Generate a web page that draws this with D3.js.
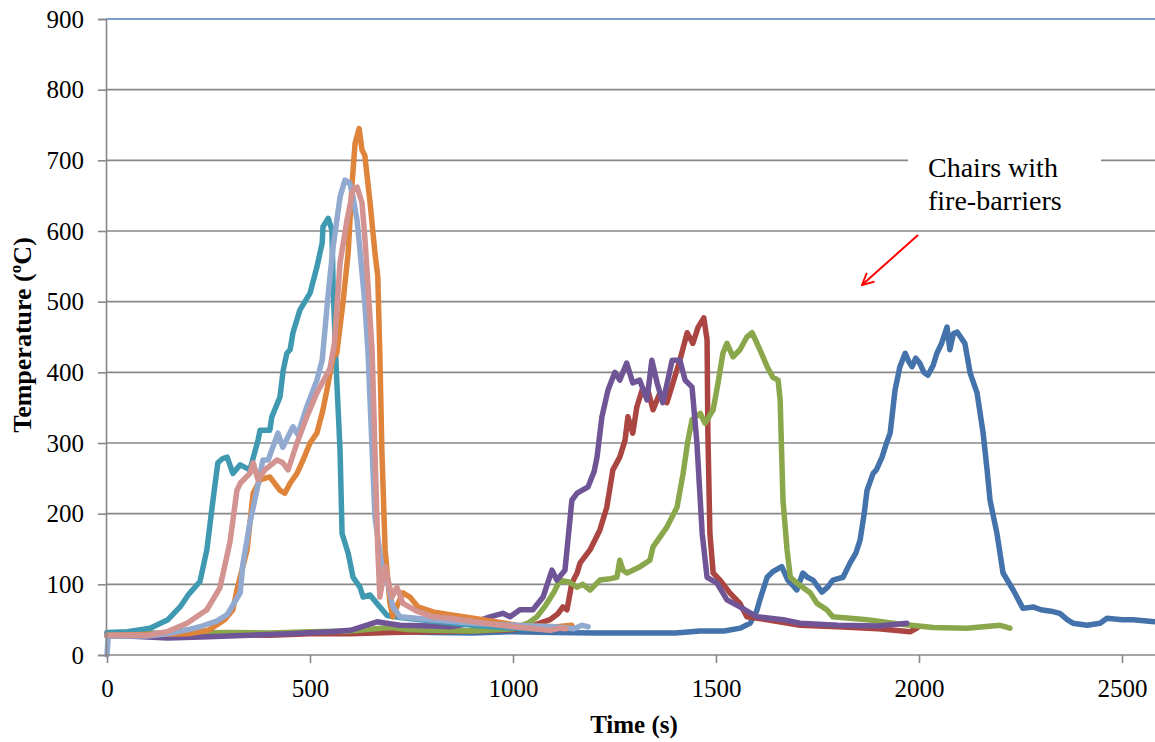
<!DOCTYPE html>
<html>
<head>
<meta charset="utf-8">
<script src="https://cdn.jsdelivr.net/npm/d3@7"></script>
<style>
  body { margin: 0; background: #fff; }
  svg text { font-family: "Liberation Serif", "Times New Roman", serif; }
</style>
</head>
<body>
<script>
/* Data: [time (s), temperature (ºC)] */
var blueData = [[0,30],[100,31],[200,29],[300,31],[400,30],[500,32],[600,31],[700,33],[800,32],[900,31],[1000,33],[1100,32],[1200,31],[1300,31],[1400,31],[1461,34],[1520,34],[1560,38],[1584,45],[1600,62],[1608,78],[1626,110],[1640,118],[1662,125],[1677,106],[1690,98],[1699,92],[1714,116],[1725,110],[1739,106],[1761,89],[1775,96],[1788,106],[1813,110],[1830,130],[1845,145],[1855,163],[1865,200],[1872,233],[1887,257],[1895,262],[1909,280],[1920,300],[1929,314],[1941,375],[1953,408],[1966,427],[1975,415],[1983,408],[1992,420],[2002,413],[2012,400],[2022,396],[2035,410],[2044,427],[2055,440],[2069,464],[2076,432],[2085,455],[2094,457],[2113,441],[2126,399],[2143,371],[2158,314],[2168,260],[2175,219],[2192,172],[2207,116],[2232,92],[2256,66],[2281,68],[2300,64],[2325,62],[2347,59],[2365,50],[2379,45],[2414,42],[2446,45],[2463,52],[2500,50],[2527,50],[2560,48],[2600,46]];
var redData = [[0,27],[100,28],[200,27],[300,29],[400,28],[500,30],[600,30],[700,32],[800,33],[900,34],[1000,36],[1040,40],[1066,45],[1091,50],[1110,58],[1123,68],[1133,64],[1145,102],[1158,116],[1165,130],[1190,149],[1214,177],[1231,209],[1246,262],[1263,280],[1276,304],[1283,337],[1295,314],[1305,351],[1318,375],[1332,375],[1345,347],[1362,371],[1379,357],[1394,385],[1411,417],[1429,456],[1443,441],[1456,464],[1470,477],[1478,446],[1480,314],[1485,172],[1493,116],[1510,106],[1534,88],[1559,73],[1576,54],[1626,50],[1707,42],[1800,40],[1900,37],[1978,33],[1995,38]];
var greenData = [[0,28],[100,30],[200,31],[300,32],[400,31],[500,33],[600,34],[660,37],[700,39],[740,36],[800,35],[900,34],[1000,37],[1040,46],[1059,54],[1080,70],[1100,88],[1116,106],[1140,103],[1158,96],[1172,100],[1190,92],[1214,106],[1240,108],[1256,110],[1263,134],[1271,120],[1281,116],[1313,125],[1337,134],[1345,153],[1379,181],[1404,209],[1419,257],[1431,304],[1441,333],[1461,342],[1473,328],[1493,347],[1505,385],[1517,427],[1527,441],[1542,422],[1559,432],[1576,450],[1589,456],[1608,432],[1626,408],[1640,393],[1653,389],[1658,361],[1665,219],[1675,149],[1683,110],[1699,102],[1732,88],[1749,73],[1773,64],[1788,54],[1872,50],[1950,44],[2035,39],[2118,38],[2200,42],[2224,38]];
var purpleData = [[0,28],[50,27],[150,24],[250,26],[350,28],[450,30],[550,33],[600,35],[665,47],[700,44],[722,42],[800,41],[845,40],[900,45],[943,54],[975,59],[993,54],[1017,64],[1049,64],[1074,82],[1096,120],[1108,106],[1128,120],[1145,219],[1158,229],[1185,238],[1200,260],[1207,280],[1219,337],[1234,375],[1251,400],[1263,389],[1280,413],[1295,385],[1312,389],[1330,361],[1342,417],[1355,385],[1369,357],[1392,417],[1411,417],[1424,389],[1441,379],[1453,300],[1466,172],[1478,110],[1502,102],[1527,78],[1559,68],[1601,54],[1665,50],[1707,45],[1800,42],[1900,41],[1970,45]];
var tealData = [[0,32],[50,33],[106,38],[150,50],[180,68],[200,85],[229,104],[246,149],[261,219],[273,272],[285,278],[296,280],[310,257],[328,269],[352,262],[372,304],[377,318],[401,318],[406,337],[426,365],[434,403],[443,427],[451,432],[458,456],[475,488],[500,512],[517,549],[530,583],[532,606],[545,618],[554,601],[557,521],[565,400],[574,290],[579,172],[594,144],[606,110],[623,96],[631,82],[648,85],[665,73],[690,56],[722,53],[800,48],[900,42],[1000,38],[1100,36]];
var orangeData = [[0,28],[100,29],[200,30],[250,35],[290,50],[310,64],[320,92],[345,149],[360,229],[377,248],[401,252],[426,233],[438,229],[451,243],[468,257],[483,276],[500,300],[517,314],[532,347],[545,385],[557,422],[566,427],[581,498],[594,569],[603,662],[611,724],[621,745],[628,715],[635,707],[648,640],[660,569],[667,535],[672,427],[677,290],[685,149],[697,73],[704,54],[717,73],[729,88],[746,82],[766,68],[803,61],[845,57],[926,50],[1010,42],[1108,40],[1145,42]];
var lightBlueData = [[0,0],[3,27],[50,27],[100,27],[148,30],[200,36],[229,40],[270,48],[296,57],[328,88],[335,130],[352,187],[369,233],[384,276],[397,276],[421,314],[433,294],[458,323],[470,312],[492,351],[517,389],[530,417],[545,512],[557,578],[574,648],[586,672],[598,668],[606,648],[616,615],[623,573],[635,498],[643,427],[653,290],[660,195],[677,125],[692,102],[704,68],[722,54],[800,50],[900,45],[1000,42],[1100,40],[1150,37],[1170,42],[1185,40]];
var pinkData = [[0,28],[100,28],[148,33],[197,45],[246,64],[278,95],[303,160],[320,233],[328,243],[352,257],[360,272],[372,248],[389,262],[419,276],[433,272],[446,262],[468,300],[492,337],[517,371],[549,405],[560,440],[574,555],[591,615],[606,658],[616,662],[628,640],[635,592],[643,521],[653,430],[660,290],[667,149],[672,82],[685,125],[702,82],[714,96],[729,73],[763,62],[803,54],[845,52],[968,42],[1091,35],[1116,38],[1130,37]];

var seriesList = [blueData, redData, greenData, purpleData, tealData, orangeData, lightBlueData, pinkData];
var seriesColors = ["#4472AA", "#AA4542", "#8AA74C", "#6F5596", "#3F99B1", "#DE843B", "#93AAD0", "#D39391"];

var yTicks = [0, 100, 200, 300, 400, 500, 600, 700, 800, 900];
var xTicks = [0, 500, 1000, 1500, 2000, 2500];
var noteLines = ["Chairs with", "fire-barriers"];

/* Layout */
var WIDTH = 1155;
var HEIGHT = 742;
var LEFT = 107;
var TOP = 19;
var BOTTOM = 655;

var x = d3.scaleLinear().domain([0, 2600]).range([LEFT, LEFT + 2600 * 0.406]);
var y = d3.scaleLinear().domain([0, 900]).range([BOTTOM, TOP]);

var svg = d3.select("body").append("svg")
    .attr("width", WIDTH)
    .attr("height", HEIGHT);

// gridlines
svg.append("g")
  .selectAll("line")
  .data(yTicks.filter(d => d > 0))
  .join("line")
    .attr("x1", LEFT - 1)
    .attr("x2", WIDTH)
    .attr("y1", d => y(d))
    .attr("y2", d => y(d))
    .attr("stroke", d => d === 900 ? "#4F7FBB" : "#888")
    .attr("stroke-width", 1.6);

// note box hides part of the gridline
svg.append("rect")
    .attr("x", 908)
    .attr("y", 140)
    .attr("width", 193)
    .attr("height", 84)
    .attr("fill", "#fff");

svg.append("text")
    .attr("x", 928)
    .attr("y", 177)
    .attr("font-size", 28)
    .attr("fill", "#000")
  .selectAll("tspan")
  .data(noteLines)
  .join("tspan")
    .attr("x", 928)
    .attr("dy", (d, i) => i === 0 ? 0 : 33)
    .text(d => d);

// arrow
svg.append("defs").append("marker")
    .attr("id", "arrow")
    .attr("viewBox", "0 0 12 12")
    .attr("refX", 11)
    .attr("refY", 6)
    .attr("markerWidth", 14)
    .attr("markerHeight", 14)
    .attr("markerUnits", "userSpaceOnUse")
    .attr("orient", "auto")
  .append("path")
    .attr("d", "M1,1 L11,6 L1,11")
    .attr("fill", "none")
    .attr("stroke", "#FF0000")
    .attr("stroke-width", 1.6);

svg.append("line")
    .attr("x1", 918).attr("y1", 235)
    .attr("x2", 862).attr("y2", 285)
    .attr("stroke", "#FF0000")
    .attr("stroke-width", 2)
    .attr("marker-end", "url(#arrow)");

// series
var line = d3.line()
    .x(d => x(d[0]))
    .y(d => y(d[1]));

svg.append("g")
  .selectAll("path")
  .data(seriesList)
  .join("path")
    .attr("d", line)
    .attr("fill", "none")
    .attr("stroke", (d, i) => seriesColors[i])
    .attr("stroke-width", 5.5)
    .attr("stroke-linejoin", "round")
    .attr("stroke-linecap", "round");

// axes
var yAxis = svg.append("g")
    .attr("transform", `translate(${LEFT - 1},0)`)
    .call(d3.axisLeft(y).tickValues(yTicks).tickFormat(d3.format("d")).tickSize(8).tickPadding(14));

var xAxis = svg.append("g")
    .attr("transform", `translate(0,${BOTTOM})`)
    .call(d3.axisBottom(x).tickValues(xTicks).tickFormat(d3.format("d")).tickSize(8).tickPadding(16));

[yAxis, xAxis].forEach(function (g) {
  g.attr("font-family", null).attr("font-size", null);
  g.select(".domain").attr("stroke", "#888").attr("stroke-width", 1.6);
  g.selectAll(".tick line").attr("stroke", "#888").attr("stroke-width", 1.6);
  g.selectAll(".tick text")
      .style("font-size", "25px")
      .attr("fill", "#000");
});
xAxis.select(".domain").attr("d", `M${LEFT - 1},0H${WIDTH}`);

// axis titles
svg.append("text")
    .attr("x", 634)
    .attr("y", 733)
    .attr("text-anchor", "middle")
    .attr("font-size", 25)
    .attr("font-weight", "bold")
    .text("Time (s)");

svg.append("text")
    .attr("transform", "translate(31,335) rotate(-90)")
    .attr("text-anchor", "middle")
    .attr("font-size", 26)
    .attr("font-weight", "bold")
    .text("Temperature (ºC)");
</script>
</body>
</html>
